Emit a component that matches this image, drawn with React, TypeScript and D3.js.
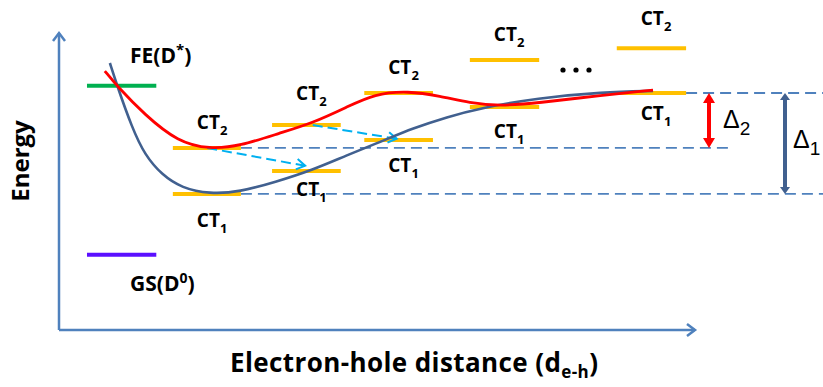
import React, { useEffect } from "react";
import * as d3 from "d3";

// ---- data (abstract units: distance 0..100, energy 0..100) ----
const curveCT1: [number, number][] = [
  [8.0, 89.9], [9.1, 82.5], [11.5, 68.0], [13.5, 58.9], [16.2, 52.2],
  [19.3, 47.8], [23.7, 45.8], [28.4, 46.5], [34.0, 49.8], [39.9, 53.9],
  [45.3, 58.9], [50.5, 63.3], [55.7, 68.0], [61.0, 71.7], [66.2, 74.7],
  [75.2, 78.1], [85.5, 80.1], [93.4, 80.5],
];
const curveCT2: [number, number][] = [
  [7.2, 87.2], [9.1, 82.2], [13.5, 72.4], [18.7, 63.3], [23.7, 60.9],
  [28.4, 61.9], [34.7, 66.3], [39.9, 69.7], [45.3, 75.1], [49.6, 79.5],
  [54.9, 80.5], [59.9, 78.8], [64.6, 76.4], [69.3, 75.4], [75.2, 76.4],
  [85.5, 79.1], [93.4, 80.8],
];
// CT level pairs: x start, x end, CT2 energy, CT1 energy
const ctStart = [17.9, 33.5, 48.0, 64.6, 87.7];
const ctEnd = [28.6, 44.3, 58.8, 75.5, 98.6];
const ct2Energy = [61.3, 69.0, 79.8, 90.9, 94.9];
const ct1Energy = [45.8, 53.5, 64.0, 75.1, 79.8];
// extra label offsets (px) per pair
const ct2LabelOff = [-19, -25, -19, -19, -23];
const ct1LabelOff = [33, 25, 32, 31, 27];
// donor levels
const donorStart = 4.4;
const donorEnd = 15.3;
const feEnergy = 82.2;
const gsEnergy = 25.3;
// transfer arrows [x0,e0,x1,e1]
const transfers: [number, number, number, number][] = [
  [23.3, 61.3, 38.7, 55.3],
  [39.9, 69.0, 53.1, 64.4],
];

const W = 823;
const H = 387;

export default function App() {
  useEffect(() => {
    document.body.style.margin = "0";
  }, []);

  const xs = d3.scaleLinear().domain([0, 100]).range([59, 695]);
  const ys = d3.scaleLinear().domain([0, 100]).range([330, 33]);

  const line = d3
    .line<[number, number]>()
    .x((d) => xs(d[0]))
    .y((d) => ys(d[1]))
    .curve(d3.curveBasis);

  const font = "'Open Sans', sans-serif";
  const axisColor = "#4F81BD";
  const darkBlue = "#41608F";

  const x0 = xs(0);
  const y0 = ys(0);
  const xEnd = xs(100);
  const yTop = ys(100);

  const yFar = ys(ct1Energy[4]);
  const yCT2 = ys(ct2Energy[0]);
  const yCT1 = ys(ct1Energy[0]);
  const barRight = xs(ctEnd[0]);

  const d2x = 709;
  const d1x = 785;

  const ctLabel = (x: number, y: number, sub: string, key: string) => (
    <text key={key} x={x} y={y} fontFamily={font} fontWeight={700} fontSize={19} fill="#000">
      CT<tspan dy={6} fontSize={13}>{sub}</tspan>
    </text>
  );

  return (
    <svg width={W} height={H} style={{ display: "block" }}>
      <rect width={W} height={H} fill="#fff" />
      {/* axes */}
      <line x1={x0} y1={y0} x2={x0} y2={yTop} stroke={axisColor} strokeWidth={2.5} />
      <line x1={x0} y1={y0} x2={xEnd} y2={y0} stroke={axisColor} strokeWidth={2.5} />
      <polyline points={`${x0 - 6},${yTop + 8} ${x0},${yTop} ${x0 + 6},${yTop + 8}`} fill="none" stroke={axisColor} strokeWidth={2.5} />
      <polyline points={`${xEnd - 8},${y0 - 6} ${xEnd},${y0} ${xEnd - 8},${y0 + 6}`} fill="none" stroke={axisColor} strokeWidth={2.5} />

      {/* dashed reference lines */}
      <line x1={xs(ctEnd[4])} y1={yFar} x2={W} y2={yFar} stroke={axisColor} strokeWidth={1.8} strokeDasharray="11,6" />
      <line x1={barRight} y1={yCT2} x2={733} y2={yCT2} stroke={axisColor} strokeWidth={1.8} strokeDasharray="11,6" />
      <line x1={barRight} y1={yCT1} x2={W} y2={yCT1} stroke={axisColor} strokeWidth={1.8} strokeDasharray="11,6" />

      {/* donor levels */}
      <line x1={xs(donorStart)} x2={xs(donorEnd)} y1={ys(feEnergy)} y2={ys(feEnergy)} stroke="#00B050" strokeWidth={4} />
      <line x1={xs(donorStart)} x2={xs(donorEnd)} y1={ys(gsEnergy)} y2={ys(gsEnergy)} stroke="#5B0FFF" strokeWidth={4} />

      {/* CT bars */}
      {ctStart.map((s, i) => (
        <g key={"bar" + i}>
          <line x1={xs(s)} x2={xs(ctEnd[i])} y1={ys(ct2Energy[i])} y2={ys(ct2Energy[i])} stroke="#FFC000" strokeWidth={4} />
          <line x1={xs(s)} x2={xs(ctEnd[i])} y1={ys(ct1Energy[i])} y2={ys(ct1Energy[i])} stroke="#FFC000" strokeWidth={4} />
        </g>
      ))}

      {/* transfer arrows */}
      {transfers.map((t, i) => {
        const ax = xs(t[0]), ay = ys(t[1]), bx = xs(t[2]), by = ys(t[3]);
        const ang = Math.atan2(by - ay, bx - ax);
        const L = 10, spread = 0.55;
        const p1 = [bx - L * Math.cos(ang - spread), by - L * Math.sin(ang - spread)];
        const p2 = [bx - L * Math.cos(ang + spread), by - L * Math.sin(ang + spread)];
        return (
          <g key={"tr" + i} stroke="#00B0F0" strokeWidth={2} fill="none">
            <line x1={ax} y1={ay} x2={bx} y2={by} strokeDasharray="10,5" />
            <polyline points={`${p1[0]},${p1[1]} ${bx},${by} ${p2[0]},${p2[1]}`} />
          </g>
        );
      })}

      {/* curves */}
      <path d={line(curveCT1) ?? ""} fill="none" stroke={darkBlue} strokeWidth={2.6} />
      <path d={line(curveCT2) ?? ""} fill="none" stroke="#FF0000" strokeWidth={2.8} />

      {/* CT labels */}
      {ctStart.map((s, i) => (
        <g key={"lab" + i}>
          {ctLabel(xs(s) + 24, ys(ct2Energy[i]) + ct2LabelOff[i], "2", "l2" + i)}
          {ctLabel(xs(s) + 24, ys(ct1Energy[i]) + ct1LabelOff[i], "1", "l1" + i)}
        </g>
      ))}

      {/* ellipsis */}
      {[563, 576, 589].map((cx) => (
        <circle key={cx} cx={cx} cy={70} r={2.6} fill="#000" />
      ))}

      {/* donor labels */}
      <text x={130} y={63} fontFamily={font} fontWeight={700} fontSize={21}>
        FE(D<tspan dy={-8} fontSize={15}>*</tspan><tspan dy={8}>)</tspan>
      </text>
      <text x={130} y={291} fontFamily={font} fontWeight={700} fontSize={21}>
        GS(D<tspan dy={-8} fontSize={14}>0</tspan><tspan dy={8}>)</tspan>
      </text>

      {/* delta arrows */}
      <g>
        <line x1={d2x} x2={d2x} y1={yFar + 8} y2={yCT2 - 8} stroke="#FF0000" strokeWidth={4} />
        <polygon points={`${d2x - 6},${yFar + 10} ${d2x},${yFar} ${d2x + 6},${yFar + 10}`} fill="#FF0000" />
        <polygon points={`${d2x - 6},${yCT2 - 10} ${d2x},${yCT2} ${d2x + 6},${yCT2 - 10}`} fill="#FF0000" />
        <line x1={d1x} x2={d1x} y1={yFar + 6} y2={yCT1 - 6} stroke={darkBlue} strokeWidth={4} />
        <polygon points={`${d1x - 5},${yFar + 7} ${d1x},${yFar} ${d1x + 5},${yFar + 7}`} fill={darkBlue} />
        <polygon points={`${d1x - 5},${yCT1 - 7} ${d1x},${yCT1} ${d1x + 5},${yCT1 - 7}`} fill={darkBlue} />
      </g>
      <text x={723} y={128} fontFamily="'Liberation Sans', sans-serif" fontSize={25}>
        Δ<tspan dy={7} fontSize={19}>2</tspan>
      </text>
      <text x={793} y={148} fontFamily="'Liberation Sans', sans-serif" fontSize={25}>
        Δ<tspan dy={7} fontSize={19}>1</tspan>
      </text>

      {/* axis titles */}
      <text
        transform={`translate(29,161) rotate(-90)`}
        textAnchor="middle"
        fontFamily={font}
        fontWeight={700}
        fontSize={24}
      >
        Energy
      </text>
      <text x={230} y={372} fontFamily={font} fontWeight={700} fontSize={26} letterSpacing={0.4}>
        Electron-hole distance (d<tspan dy={6} fontSize={17}>e-h</tspan><tspan dy={-6}>)</tspan>
      </text>
    </svg>
  );
}
